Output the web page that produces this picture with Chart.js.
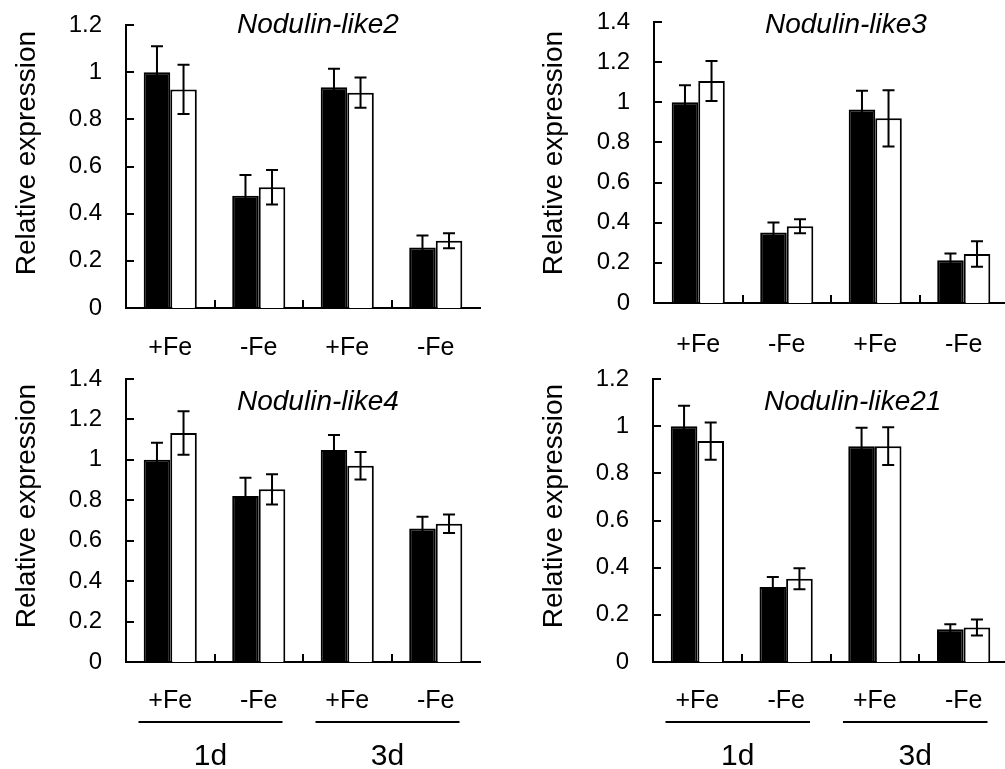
<!DOCTYPE html>
<html><head><meta charset="utf-8">
<script src="https://cdn.jsdelivr.net/npm/chart.js@4.4.0/dist/chart.umd.min.js"></script>
<style>
html,body{margin:0;padding:0;background:#fff;width:1005px;height:769px;overflow:hidden;position:relative}
canvas{position:absolute;display:block}
</style></head><body>
<canvas id="c1" width="482" height="355" style="left:0;top:0"></canvas>
<canvas id="c2" width="483" height="365" style="left:527px;top:0"></canvas>
<canvas id="c3" width="482" height="414" style="left:0;top:355px"></canvas>
<canvas id="c4" width="483" height="409" style="left:527px;top:360px"></canvas>
<script>
// ---- data ----
const categories = ['+Fe', '-Fe', '+Fe', '-Fe'];
const groupLabels = ['1d', '3d'];
const yAxisTitle = 'Relative expression';
const genes = ['Nodulin-like2', 'Nodulin-like3', 'Nodulin-like4', 'Nodulin-like21'];
const yMaxes = [1.2, 1.4, 1.4, 1.2];
const yStep = 0.2;

const nl2Black = [1.0, 0.476, 0.936, 0.257];
const nl2BlackErr = [0.11, 0.088, 0.078, 0.05];
const nl2White = [0.927, 0.512, 0.913, 0.285];
const nl2WhiteErr = [0.104, 0.073, 0.064, 0.032];

const nl3Black = [1.0, 0.351, 0.964, 0.213];
const nl3BlackErr = [0.085, 0.05, 0.093, 0.033];
const nl3White = [1.106, 0.382, 0.92, 0.244];
const nl3WhiteErr = [0.1, 0.035, 0.14, 0.064];

const nl4Black = [1.0, 0.821, 1.049, 0.66];
const nl4BlackErr = [0.085, 0.09, 0.074, 0.059];
const nl4White = [1.133, 0.854, 0.971, 0.684];
const nl4WhiteErr = [0.108, 0.075, 0.068, 0.046];

const nl21Black = [1.0, 0.318, 0.915, 0.139];
const nl21BlackErr = [0.087, 0.042, 0.078, 0.021];
const nl21White = [0.937, 0.353, 0.915, 0.146];
const nl21WhiteErr = [0.079, 0.045, 0.08, 0.034];

const blackSeries = [nl2Black, nl3Black, nl4Black, nl21Black];
const blackErrs = [nl2BlackErr, nl3BlackErr, nl4BlackErr, nl21BlackErr];
const whiteSeries = [nl2White, nl3White, nl4White, nl21White];
const whiteErrs = [nl2WhiteErr, nl3WhiteErr, nl4WhiteErr, nl21WhiteErr];

// ---- layout (canvas-relative) ----
const FONT = "'Liberation Sans', Arial, sans-serif";
const layouts = [
  {id: 'c1', W: 482, H: 355, L: 126, T: 25, R: 480, B: 308, tickPad: 25, geneBase: 33, titleCY: 153, groups: false},
  {id: 'c2', W: 483, H: 365, L: 127, T: 22, R: 481, B: 303, tickPad: 27.5, geneBase: 33, titleCY: 153, groups: false},
  {id: 'c3', W: 482, H: 414, L: 126, T: 24, R: 480, B: 307, tickPad: 24, geneBase: 55, titleCY: 151, groups: true},
  {id: 'c4', W: 483, H: 409, L: 126, T: 19, R: 481, B: 302, tickPad: 24.5, geneBase: 50, titleCY: 146, groups: true}
];

const decoPlugin = {
  id: 'deco',
  afterDatasetsDraw(chart, args, o) {
    const ctx = chart.ctx, ys = chart.scales.y;
    ctx.save();
    ctx.strokeStyle = '#000';
    ctx.lineWidth = 2;
    chart.data.datasets.forEach((ds, di) => {
      const meta = chart.getDatasetMeta(di);
      meta.data.forEach((bar, i) => {
        const v = ds.data[i], e = ds.errors[i];
        const yt = ys.getPixelForValue(v + e), yb = ys.getPixelForValue(v - e);
        const x = bar.x;
        ctx.beginPath();
        ctx.moveTo(x, yt); ctx.lineTo(x, yb);
        ctx.moveTo(x - 6, yt); ctx.lineTo(x + 6, yt);
        ctx.moveTo(x - 6, yb); ctx.lineTo(x + 6, yb);
        ctx.stroke();
      });
    });
    ctx.restore();
  },
  afterDraw(chart, args, o) {
    const ctx = chart.ctx, xs = chart.scales.x, ys = chart.scales.y, a = chart.chartArea;
    ctx.save();
    ctx.strokeStyle = '#000';
    ctx.fillStyle = '#000';
    ctx.lineWidth = 2;
    // inward y ticks
    ys.ticks.forEach(t => {
      const py = Math.round(ys.getPixelForValue(t.value));
      ctx.beginPath(); ctx.moveTo(a.left, py); ctx.lineTo(a.left + 8, py); ctx.stroke();
    });
    // inward x ticks between categories
    for (let i = 1; i < categories.length; i++) {
      const px = Math.round((xs.getPixelForTick(i - 1) + xs.getPixelForTick(i)) / 2);
      ctx.beginPath(); ctx.moveTo(px, a.bottom); ctx.lineTo(px, a.bottom - 8); ctx.stroke();
    }
    // gene name
    ctx.font = 'italic 28px ' + FONT;
    ctx.textAlign = 'left';
    ctx.textBaseline = 'alphabetic';
    ctx.fillText(o.gene, a.left + 111, o.geneBase);
    // y axis title
    ctx.save();
    ctx.translate(35, o.titleCY);
    ctx.rotate(-Math.PI / 2);
    ctx.font = '28px ' + FONT;
    ctx.textAlign = 'center';
    ctx.fillText(yAxisTitle, 0, 0);
    ctx.restore();
    // group lines + labels
    if (o.groups) {
      const half = (xs.getPixelForTick(1) - xs.getPixelForTick(0)) / 2;
      ctx.font = '30px ' + FONT;
      ctx.textAlign = 'center';
      groupLabels.forEach((g, gi) => {
        const xl = xs.getPixelForTick(2 * gi) - half + 12.5;
        const xr = xs.getPixelForTick(2 * gi + 1) + half - 20.5;
        const ly = Math.round(a.bottom + 60);
        ctx.beginPath(); ctx.moveTo(xl, ly); ctx.lineTo(xr, ly); ctx.stroke();
        ctx.fillText(g, (xl + xr) / 2, a.bottom + 103);
      });
    }
    ctx.restore();
  }
};

layouts.forEach((lay, pi) => {
  new Chart(document.getElementById(lay.id), {
    type: 'bar',
    data: {
      labels: categories,
      datasets: [
        {label: 'Black', data: blackSeries[pi], errors: blackErrs[pi], backgroundColor: '#000', borderColor: '#000', borderWidth: 2},
        {label: 'White', data: whiteSeries[pi], errors: whiteErrs[pi], backgroundColor: '#fff', borderColor: '#000', borderWidth: 2}
      ]
    },
    options: {
      responsive: false,
      animation: false,
      devicePixelRatio: 1,
      categoryPercentage: 0.6,
      barPercentage: 1.0,
      layout: {padding: {left: 0, top: lay.T, right: lay.W - lay.R, bottom: 0}},
      plugins: {
        legend: {display: false},
        tooltip: {enabled: false},
        title: {display: false},
        deco: {gene: genes[pi], geneBase: lay.geneBase, titleCY: lay.titleCY, groups: lay.groups}
      },
      scales: {
        x: {
          grid: {display: false, drawTicks: false},
          border: {display: true, color: '#000', width: 2},
          ticks: {color: '#000', font: {family: FONT, size: 25}, padding: lay.tickPad, maxRotation: 0, autoSkip: false},
          afterFit: s => { s.height = lay.H - lay.B; s.paddingLeft = 0; s.paddingRight = 0; }
        },
        y: {
          min: 0, max: yMaxes[pi],
          grid: {display: false, drawTicks: false},
          border: {display: true, color: '#000', width: 2},
          ticks: {stepSize: yStep, color: '#000', font: {family: FONT, size: 24}, padding: 24,
                  callback: v => String(Number(Number(v).toFixed(1)))},
          afterFit: s => { s.width = lay.L; s.paddingTop = 0; s.paddingBottom = 0; }
        }
      }
    },
    plugins: [decoPlugin]
  });
});
</script>
</body></html>
